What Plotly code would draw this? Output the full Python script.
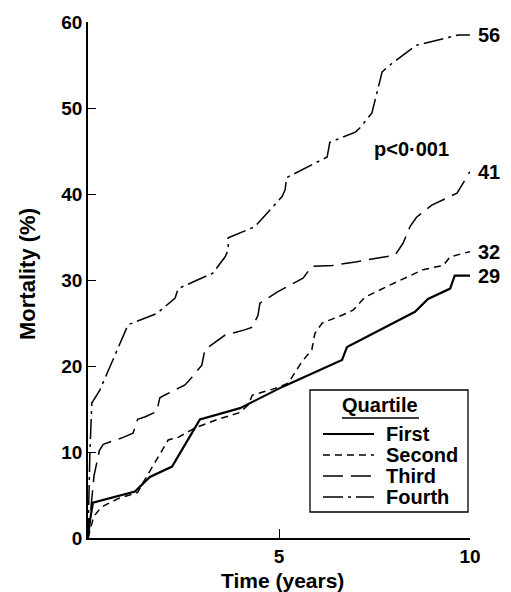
import plotly.graph_objects as go

# ---- data ----
time_first = [0, 0.05, 0.13, 1.23, 1.62, 2.2, 2.93, 3.59, 3.98, 5.1, 6.65, 6.78, 8.56, 8.9, 9.48, 9.6, 10]
mort_first = [0, 2.0, 4.1, 5.4, 7.1, 8.3, 13.8, 14.6, 15.1, 17.6, 20.7, 22.2, 26.3, 27.8, 29.0, 30.5, 30.5]

time_second = [0, 0.15, 0.35, 0.8, 1.3, 1.45, 2.1, 2.36, 2.8, 3.4, 3.98, 4.2, 4.3, 4.9, 5.24, 5.6, 5.86,
               5.94, 6.13, 6.65, 6.94, 7.25, 7.9, 8.77, 9.3, 9.48, 10]
mort_second = [0, 2.5, 3.6, 4.6, 5.3, 6.5, 11.4, 11.7, 12.8, 13.8, 14.6, 15.5, 16.6, 17.4, 18.0, 20.5, 21.9,
               23.8, 25.0, 25.9, 26.5, 28.0, 29.4, 31.2, 31.7, 32.7, 33.3]

time_third = [0, 0.08, 0.16, 0.3, 0.4, 0.92, 1.18, 1.3, 1.5, 1.8, 1.88, 2.0, 2.36, 2.54, 2.72, 2.98, 3.06,
              3.32, 3.59, 4.1, 4.3, 4.45, 4.5, 4.95, 5.63, 5.86, 6.4, 7.0, 8.04, 8.25, 8.43, 8.6, 9.0, 9.66, 10]
mort_third = [0, 3.5, 7.3, 10.2, 10.9, 11.7, 12.2, 13.8, 14.1, 14.7, 16.3, 16.6, 17.4, 17.8, 18.7, 20.1, 21.9,
              22.7, 23.6, 24.2, 24.5, 25.9, 27.3, 28.6, 30.2, 31.6, 31.7, 32.1, 32.9, 34.3, 36.2, 37.3, 38.7, 40.1, 42.6]

time_fourth = [0, 0.05, 0.1, 0.31, 1.05, 1.23, 1.8, 2.28, 2.36, 3.27, 3.59, 3.67, 3.67, 4.37, 5.08, 5.16, 5.2,
               6.26, 6.33, 7.0, 7.12, 7.43, 7.7, 7.96, 8.6, 9.7, 10]
mort_fourth = [0, 10.0, 15.7, 17.2, 24.8, 25.1, 26.1, 27.9, 29.0, 30.8, 32.7, 33.5, 34.9, 36.2, 39.7, 40.5, 41.9,
               44.3, 46.0, 47.2, 47.7, 49.4, 54.2, 55.2, 57.3, 58.5, 58.5]

quartile_names = ["First", "Second", "Third", "Fourth"]
end_labels = ["29", "32", "41", "56"]
x_tick_vals = [5, 10]
y_tick_vals = [0, 10, 20, 30, 40, 50, 60]
p_text = "p&lt;0·001"
x_title = "Time (years)"
y_title = "Mortality (%)"

series_x = [time_first, time_second, time_third, time_fourth]
series_y = [mort_first, mort_second, mort_third, mort_fourth]

# ---- styles ----
FONT = "Liberation Sans, Arial, Helvetica, sans-serif"
dashes = ["solid", "7px,5px", "20px,8px", "20px,5px,3px,5px"]
widths = [2.2, 1.5, 1.5, 1.5]


def bold(size):
    return dict(family=FONT, size=size, color="black", weight="bold")


fig = go.Figure()
for name, xs, ys, d, w in zip(quartile_names, series_x, series_y, dashes, widths):
    fig.add_trace(go.Scatter(x=xs, y=ys, mode="lines", name=name,
                             line=dict(color="black", width=w, dash=d),
                             showlegend=False, hoverinfo="skip"))

# end labels
for lab, xs, ys in zip(end_labels, series_x, series_y):
    fig.add_annotation(x=xs[-1], y=ys[-1], text=lab, showarrow=False, xanchor="left",
                       xshift=6, font=bold(20))

fig.add_annotation(x=8.48, y=45.2, text=p_text, showarrow=False, font=bold(20))

# ---- layout geometry (pixel -> paper helpers) ----
L, R, T, B = 88, 41, 22, 54
W, H = 511, 592
PW, PH = W - L - R, H - T - B


def px(x):
    return (x - L) / PW


def py(y):
    return (H - B - y) / PH


# axis titles
fig.add_annotation(xref="paper", yref="paper", x=px(282), y=py(580), text=x_title, showarrow=False,
                   xanchor="center", yanchor="middle", font=bold(21))
fig.add_annotation(xref="paper", yref="paper", x=px(27), y=py(274), text=y_title, showarrow=False,
                   xanchor="center", yanchor="middle", textangle=-90, font=bold(22))

# manual legend
fig.add_shape(type="rect", xref="paper", yref="paper", x0=px(310), x1=px(468), y0=py(512), y1=py(390),
              line=dict(color="black", width=1.3), fillcolor="white", layer="above")
fig.add_annotation(xref="paper", yref="paper", x=px(380), y=py(405), text="Quartile", showarrow=False,
                   xanchor="center", yanchor="middle", font=bold(20))
fig.add_shape(type="line", xref="paper", yref="paper", x0=px(342), x1=px(419), y0=py(418), y1=py(418),
              line=dict(color="black", width=1.5))
row_y = [434, 455, 476, 497]
for name, d, w, ry in zip(quartile_names, dashes, widths, row_y):
    fig.add_shape(type="line", xref="paper", yref="paper", x0=px(323), x1=px(374), y0=py(ry), y1=py(ry),
                  line=dict(color="black", width=w, dash=d))
    fig.add_annotation(xref="paper", yref="paper", x=px(384), y=py(ry), text=name, showarrow=False,
                       xanchor="left", yanchor="middle", font=bold(20))

fig.update_layout(
    width=W, height=H,
    margin=dict(l=L, r=R, t=T, b=B, autoexpand=False),
    paper_bgcolor="white", plot_bgcolor="white",
    showlegend=False,
    xaxis=dict(range=[0, 10], tickvals=x_tick_vals, ticks="inside", ticklen=9, tickwidth=1.3,
               tickcolor="black", showline=True, linecolor="black", linewidth=1.5,
               showgrid=False, zeroline=False, tickfont=bold(19), automargin=False),
    yaxis=dict(range=[0, 60], tickvals=y_tick_vals, ticks="inside", ticklen=8, tickwidth=1.3,
               tickcolor="black", showline=True, linecolor="black", linewidth=1.5,
               showgrid=False, zeroline=False, tickfont=bold(19), automargin=False),
)

fig.write_html("out.html", config={"displayModeBar": False},
               post_script="document.body.style.margin='0';document.body.style.overflow='hidden';")
